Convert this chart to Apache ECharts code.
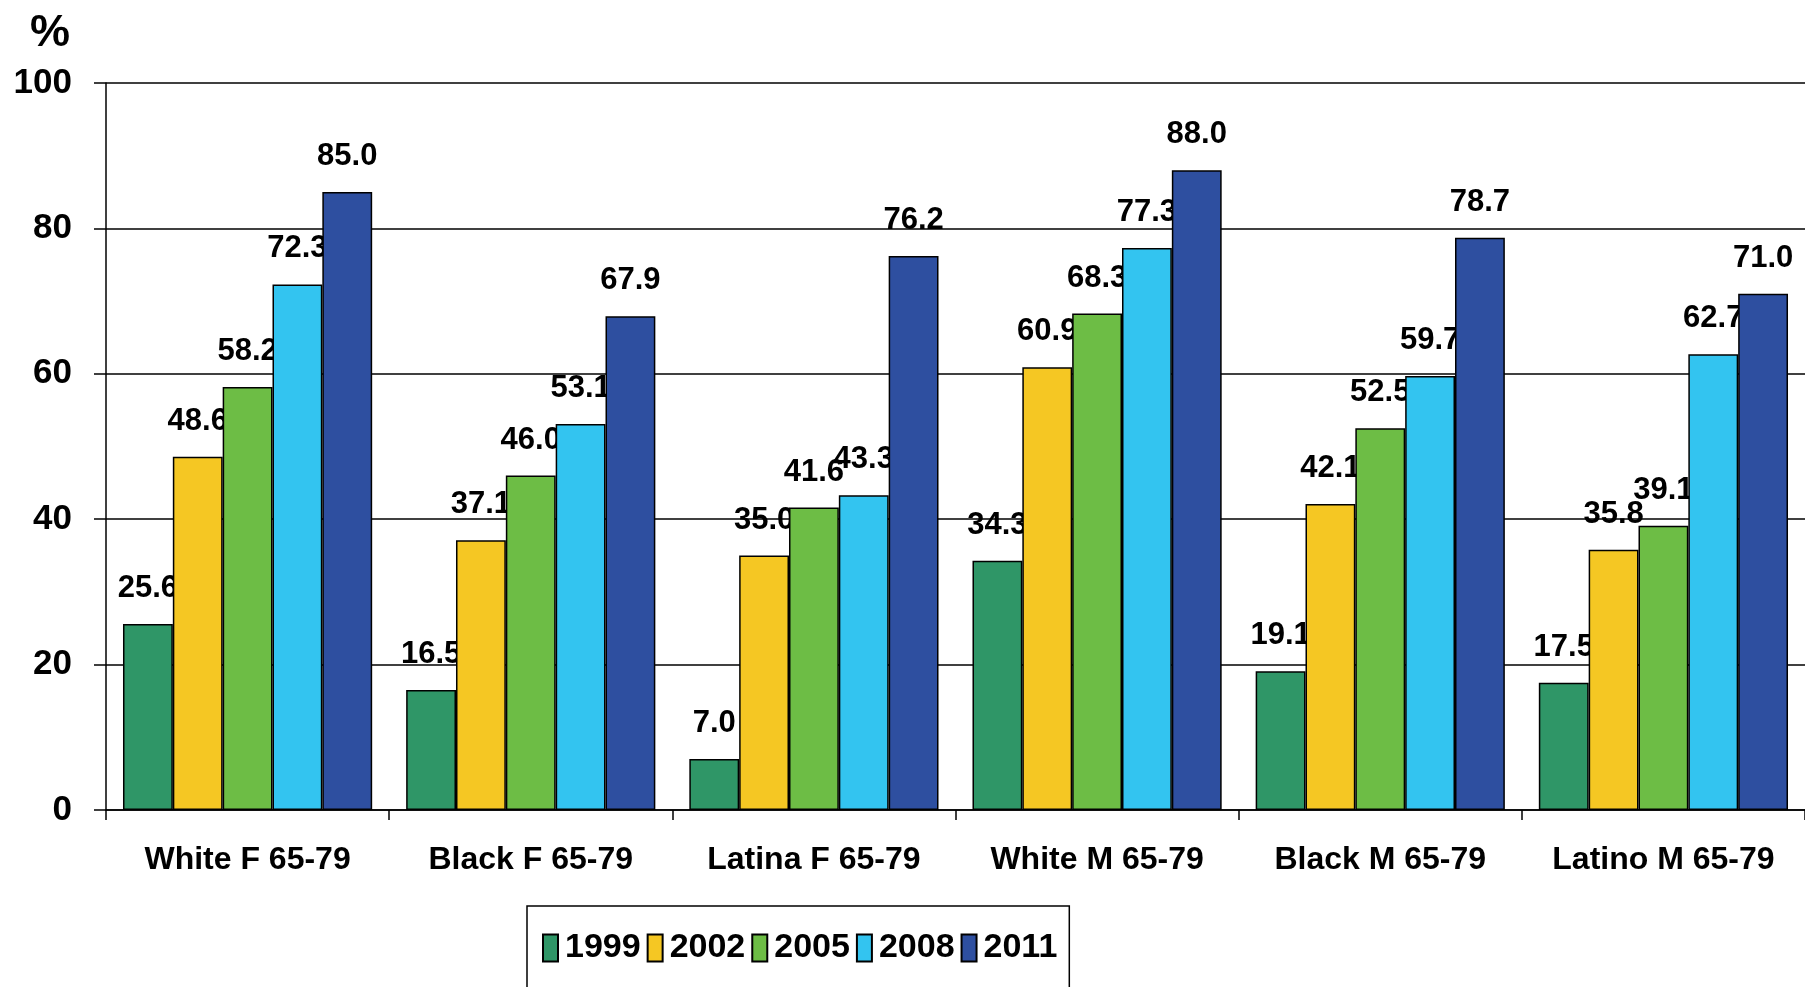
<!DOCTYPE html>
<html>
<head>
<meta charset="utf-8">
<script src="https://cdn.jsdelivr.net/npm/echarts@6/dist/echarts.min.js"></script>
<style>
html,body{margin:0;padding:0;background:#fff;}
#chart{width:1805px;height:987px;}
</style>
</head>
<body>
<div id="chart"></div>
<script>
const categories = ['White F 65-79','Black F 65-79','Latina F 65-79','White M 65-79','Black M 65-79','Latino M 65-79'];
const years = ['1999','2002','2005','2008','2011'];
const v1999 = [25.6, 16.5, 7.0, 34.3, 19.1, 17.5];
const v2002 = [48.6, 37.1, 35.0, 60.9, 42.1, 35.8];
const v2005 = [58.2, 46.0, 41.6, 68.3, 52.5, 39.1];
const v2008 = [72.3, 53.1, 43.3, 77.3, 59.7, 62.7];
const v2011 = [85.0, 67.9, 76.2, 88.0, 78.7, 71.0];
const yTicks = [0, 20, 40, 60, 80, 100];
const colors = ['#2f9667','#f5c723','#6dbd45','#33c4f0','#2e4fa0'];

const allValues = [v1999, v2002, v2005, v2008, v2011];
const bold = '"Liberation Sans", Arial, sans-serif';

const chart = echarts.init(document.getElementById('chart'));
chart.setOption({
  animation: false,
  backgroundColor: '#ffffff',
  title: {
    text: '%', left: 25, top: 6,
    textStyle: { fontFamily: bold, fontWeight: 'bold', fontSize: 45, color: '#000' }
  },
  grid: { left: 106, top: 83, bottom: 177, width: 1712, containLabel: false },
  legend: {
    data: years,
    left: 527, top: 906,
    padding: [25, 12, 60, 15],
    borderColor: '#000', borderWidth: 1.5,
    itemWidth: 15, itemHeight: 27, itemGap: 6,
    icon: 'rect',
    textStyle: { fontFamily: bold, fontWeight: 'bold', fontSize: 34, color: '#000', padding: [0,0,0,2] }
  },
  xAxis: {
    type: 'category',
    data: categories,
    axisLine: { lineStyle: { color: '#000', width: 1.5 } },
    axisTick: { show: true, interval: 0, length: 10, lineStyle: { color: '#000', width: 1.5 } },
    axisLabel: { interval: 0, margin: 34, fontFamily: bold, fontWeight: 'bold', fontSize: 32, color: '#000' }
  },
  yAxis: {
    type: 'value', min: 0, max: 100, interval: 20,
    axisLine: { show: true, lineStyle: { color: '#000', width: 1.5 } },
    axisTick: { show: true, length: 12, lineStyle: { color: '#000', width: 1.5 } },
    splitLine: { show: true, lineStyle: { color: '#000', width: 1.5 } },
    axisLabel: {
      margin: 34, fontFamily: bold, fontWeight: 'bold', fontSize: 35, color: '#000',
      formatter: v => yTicks.includes(v) ? String(v) : ''
    }
  },
  series: years.map((y, i) => ({
    name: y,
    type: 'bar',
    z: 2 + i,
    data: allValues[i],
    barGap: '0%',
    barCategoryGap: '12%',
    itemStyle: { color: colors[i], borderColor: '#000', borderWidth: 1.5 },
    label: {
      show: true, position: 'top', distance: 20,
      fontFamily: bold, fontWeight: 'bold', fontSize: 31, color: '#000',
      formatter: p => p.value.toFixed(1)
    }
  }))
});
</script>
</body>
</html>
